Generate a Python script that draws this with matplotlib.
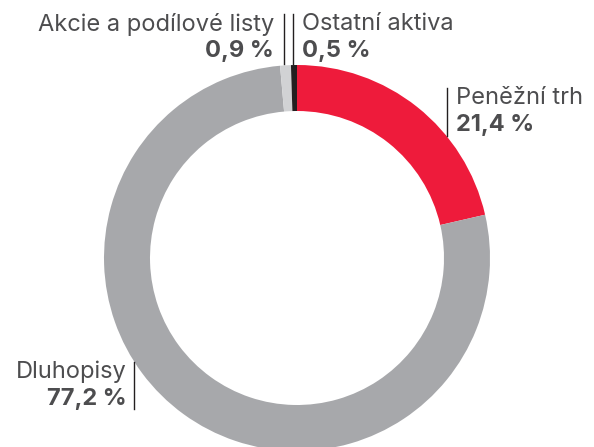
import matplotlib.pyplot as plt

labels = ['Peněžní trh', 'Dluhopisy', 'Akcie a podílové listy', 'Ostatní aktiva']
values = [21.4, 77.2, 0.9, 0.5]
value_labels = ['21,4 %', '77,2 %', '0,9 %', '0,5 %']
colors = ['#ee1b3b', '#a7a8ab', '#d1d2d4', '#231f20']

plt.rcParams['font.family'] = ['Inter', 'DejaVu Sans']
txt_col = '#4d4d4f'
H = 447

fig = plt.figure(figsize=(5.94, 4.47), dpi=100)
ax = fig.add_axes([0, 0, 1, 1])

ax.pie(values, colors=colors, startangle=90, counterclock=False,
       center=(297, H - 258), radius=193,
       wedgeprops=dict(width=46, linewidth=0))
ax.set_xlim(0, 594)
ax.set_ylim(0, H)
ax.set_aspect('equal')
ax.axis('off')

# label positions in pixels from top: (line x, line top, line bottom, text x, align)
ann = {
    'Peněžní trh': (447, 88, 136, 456, 'left'),
    'Dluhopisy': (134, 362, 409, 127, 'right'),
    'Akcie a podílové listy': (284, 14, 64, 274, 'right'),
    'Ostatní aktiva': (293, 14, 64, 302, 'left'),
}
for lab, vl in zip(labels, value_labels):
    lx, y0, y1, tx, ha = ann[lab]
    ax.plot([lx, lx], [H - y0, H - y1], color='#231f20', lw=1)
    ax.text(tx, H - (y0 + 10), lab, ha=ha, va='center', fontsize=17, color=txt_col)
    ax.text(tx, H - (y0 + 37), vl, ha=ha, va='center', fontsize=17, color=txt_col,
            fontweight='bold')

plt.savefig('out.png', dpi=100)
